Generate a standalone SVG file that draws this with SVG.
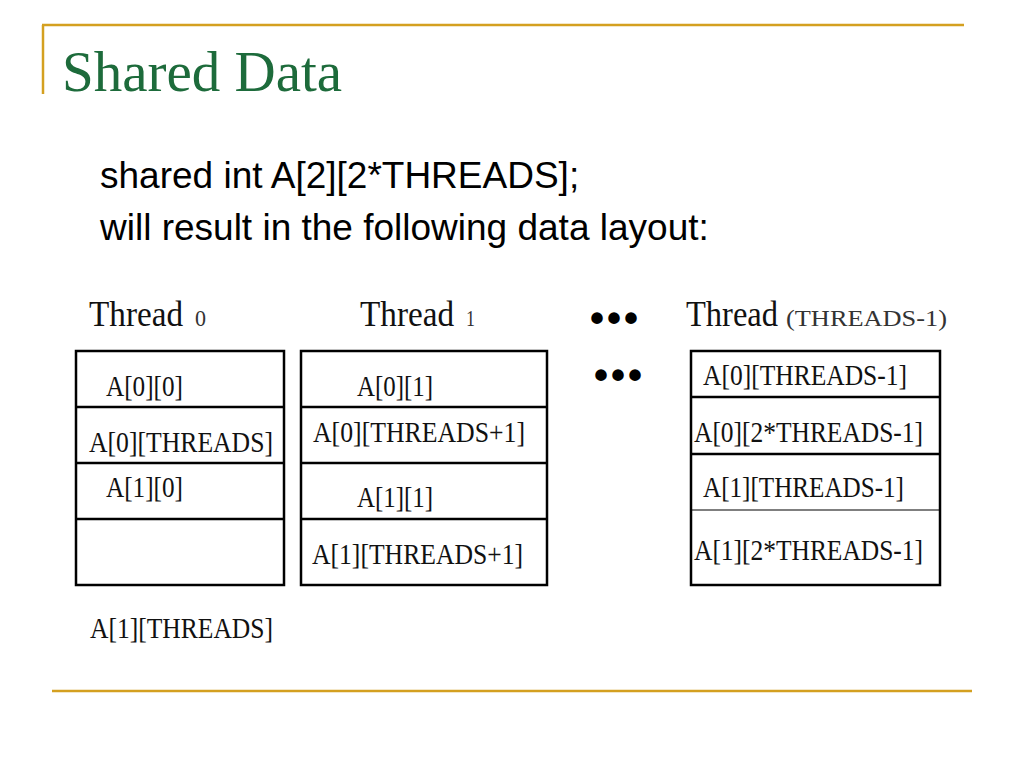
<svg xmlns="http://www.w3.org/2000/svg" width="1024" height="768" viewBox="0 0 1024 768">
<style>
.gold{stroke:#d4a020;stroke-width:2.5;fill:none}
.title{font-family:"Liberation Serif",serif;font-size:57px;fill:#1d6b3b}
.body{font-family:"Liberation Sans",Arial,sans-serif;font-size:37px;fill:#000}
.th{font-family:"Liberation Serif",serif;font-size:35px;fill:#111}
.sub{font-family:"Liberation Serif",serif;font-size:24px;fill:#333}
.cell{font-family:"Liberation Serif",serif;font-size:30px;fill:#111}
.box{fill:#fff;stroke:#000;stroke-width:2.5}
.div{stroke:#000;stroke-width:2.5}
.thin{stroke:#000;stroke-width:1.2}
.dots{font-family:"Liberation Sans",sans-serif;font-weight:bold;font-size:40px;fill:#000;letter-spacing:3px}
</style>
<rect width="1024" height="768" fill="#fff"/>
<g id="frame">
<line class="gold" x1="42" y1="25" x2="964" y2="25"/>
<line class="gold" x1="43" y1="25" x2="43" y2="94"/>
<line class="gold" x1="52" y1="691" x2="972" y2="691"/>
</g>
<text class="title" x="62" y="91">Shared Data</text>
<text class="body" x="100" y="188">shared int A[2][2*THREADS];</text>
<text class="body" x="100" y="240">will result in the following data layout:</text>
<g id="thread0">
<text class="th" x="89" y="326" textLength="94" lengthAdjust="spacingAndGlyphs">Thread</text>
<text class="sub" x="195" y="326" textLength="11" lengthAdjust="spacingAndGlyphs">0</text>
<rect class="box" x="76" y="351" width="208" height="234"/>
<line class="div" x1="76" y1="407" x2="284" y2="407"/>
<line class="div" x1="76" y1="463" x2="284" y2="463"/>
<line class="div" x1="76" y1="519" x2="284" y2="519"/>
<text class="cell" x="106" y="396" textLength="77" lengthAdjust="spacingAndGlyphs">A[0][0]</text>
<text class="cell" x="89" y="452" textLength="184" lengthAdjust="spacingAndGlyphs">A[0][THREADS]</text>
<text class="cell" x="106" y="497" textLength="77" lengthAdjust="spacingAndGlyphs">A[1][0]</text>
<text class="cell" x="90" y="638" textLength="183" lengthAdjust="spacingAndGlyphs">A[1][THREADS]</text>
</g>
<g id="thread1">
<text class="th" x="360" y="326" textLength="94" lengthAdjust="spacingAndGlyphs">Thread</text>
<text class="sub" x="466" y="326" textLength="9" lengthAdjust="spacingAndGlyphs">1</text>
<rect class="box" x="301" y="351" width="246" height="234"/>
<line class="div" x1="301" y1="407" x2="547" y2="407"/>
<line class="div" x1="301" y1="463" x2="547" y2="463"/>
<line class="div" x1="301" y1="519" x2="547" y2="519"/>
<text class="cell" x="357" y="396" textLength="76" lengthAdjust="spacingAndGlyphs">A[0][1]</text>
<text class="cell" x="313" y="442" textLength="212" lengthAdjust="spacingAndGlyphs">A[0][THREADS+1]</text>
<text class="cell" x="357" y="507" textLength="76" lengthAdjust="spacingAndGlyphs">A[1][1]</text>
<text class="cell" x="312" y="564" textLength="211" lengthAdjust="spacingAndGlyphs">A[1][THREADS+1]</text>
</g>
<g id="ellipsis">
<text class="dots" x="590" y="332">•••</text>
<text class="dots" x="594" y="389">•••</text>
</g>
<g id="threadN">
<text class="th" x="686" y="326" textLength="92" lengthAdjust="spacingAndGlyphs">Thread</text>
<text class="sub" x="786" y="326" textLength="161" lengthAdjust="spacingAndGlyphs">(THREADS-1)</text>
<rect class="box" x="691" y="351" width="249" height="234"/>
<line class="div" x1="691" y1="397" x2="940" y2="397"/>
<line class="div" x1="691" y1="454" x2="940" y2="454"/>
<line class="thin" x1="691" y1="510" x2="940" y2="510"/>
<text class="cell" x="703" y="385" textLength="204" lengthAdjust="spacingAndGlyphs">A[0][THREADS-1]</text>
<text class="cell" x="694" y="442" textLength="229" lengthAdjust="spacingAndGlyphs">A[0][2*THREADS-1]</text>
<text class="cell" x="703" y="497" textLength="201" lengthAdjust="spacingAndGlyphs">A[1][THREADS-1]</text>
<text class="cell" x="694" y="560" textLength="229" lengthAdjust="spacingAndGlyphs">A[1][2*THREADS-1]</text>
</g>
<g id="connectors"/>
</svg>
